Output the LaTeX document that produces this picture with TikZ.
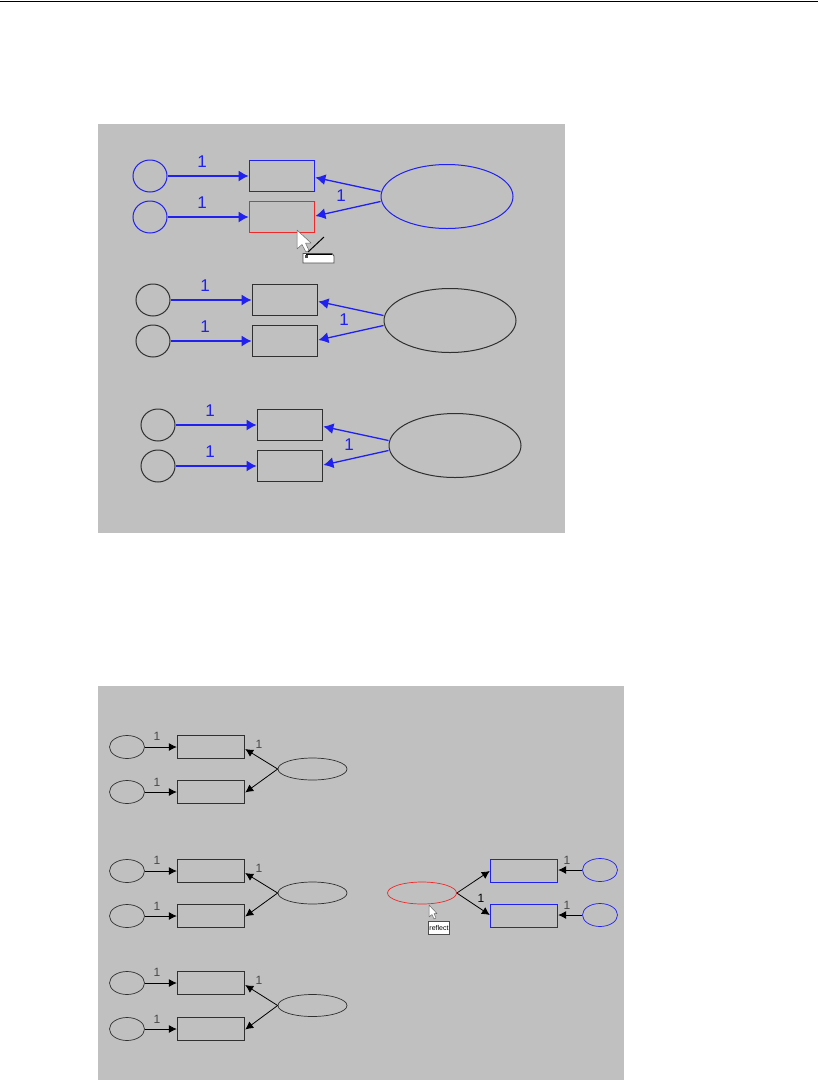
\documentclass[tikz,border=0pt]{standalone}
\usepackage{fontspec}
\setmainfont{Liberation Sans}
\usetikzlibrary{shapes.geometric,arrows.meta,calc}
\definecolor{panelgray}{HTML}{C0C0C0}
\definecolor{bl}{HTML}{2020F0}
\definecolor{rd}{HTML}{F02828}
\definecolor{dk}{HTML}{303030}
\definecolor{mid}{HTML}{484848}
\tikzset{
  panel/.style={fill=panelgray,draw=none},
  bigrect/.style={rectangle,draw=#1,line width=1.3pt,minimum width=65.5pt,minimum height=31.5pt,inner sep=0pt},
  bigcirc/.style={ellipse,draw=#1,line width=1pt,minimum width=34pt,minimum height=32pt,inner sep=0pt},
  bigell/.style={ellipse,draw=#1,line width=1pt,minimum width=132pt,minimum height=64pt,inner sep=0pt},
  bigarrow/.style={-{Latex[length=10pt,width=11pt]},draw=bl,line width=1.3pt},
  biglabel/.style={text=bl,font=\fontsize{17}{17}\selectfont,inner sep=0pt},
  smrect/.style={rectangle,draw=#1,line width=0.9pt,minimum width=67.5pt,minimum height=23pt,inner sep=0pt},
  smcirc/.style={ellipse,draw=#1,line width=0.7pt,minimum width=35pt,minimum height=23pt,inner sep=0pt},
  smell/.style={ellipse,draw=#1,line width=0.7pt,minimum width=69pt,minimum height=22pt,inner sep=0pt},
  smarrow/.style={-{Latex[length=8pt,width=8pt]},draw=black,line width=0.8pt},
  smlabel/.style={text=mid,font=\fontsize{12}{12}\selectfont,inner sep=0pt},
  pointer/.style={fill=white,draw=black!60,line width=0.5pt,line join=round},
}
% #1 prefix, #2 dx, #3 dy, #4 top colour, #5 circle/ellipse colour, #6 lower rect colour
\newcommand{\biggroup}[6]{%
  \node[bigcirc=#5] (#1c1) at (150+#2,176+#3) {};
  \node[bigcirc=#5] (#1c2) at (150+#2,217+#3) {};
  \node[bigrect=#4] (#1r1) at (282+#2,176+#3) {};
  \node[bigrect=#6] (#1r2) at (282+#2,217+#3) {};
  \node[bigell=#5] (#1e) at (447+#2,196.5+#3) {};
  \coordinate (#1s1) at ($(#1e.west)+(0,-5)$);
  \coordinate (#1s2) at ($(#1e.west)+(0,5)$);
  \draw[bigarrow] (#1c1) -- (#1r1);
  \draw[bigarrow] (#1c2) -- (#1r2);
  \draw[bigarrow] (#1s1) -- ($(#1r1.east)+(0,1.5)$);
  \draw[bigarrow] (#1s2) -- ($(#1r2.east)+(0,-1)$);
  \node[biglabel] (#1l1) at (202+#2,162+#3) {1};
  \node[biglabel] (#1l2) at (202+#2,203+#3) {1};
  \node[biglabel] (#1l3) at (341+#2,196+#3) {1};
}
% #1 prefix, #2 dy (first rect top at 735+dy), #3 gap between rows
\newcommand{\smgroup}[3]{%
  \node[smcirc=dk] (#1c1) at (127,747+#2) {};
  \node[smcirc=dk] (#1c2) at (127,747+#2+#3) {};
  \node[smrect=dk] (#1r1) at (211,746.5+#2) {};
  \node[smrect=dk] (#1r2) at (211,746.5+#2+#3) {};
  \node[smell=dk] (#1e) at (312.5,769+#2+#3/2-22.5) {};
  \draw[smarrow] (#1c1) -- (#1r1.west |- #1c1);
  \draw[smarrow] (#1c2) -- (#1r2.west |- #1c2);
  \draw[smarrow] (#1e.west) -- ($(#1r1.east)+(0,2.5)$);
  \draw[smarrow] (#1e.west) -- ($(#1r2.east)+(0,1)$);
  \node[smlabel] (#1l1) at (157,736+#2) {1};
  \node[smlabel] (#1l2) at (157,782+#2+#3-45) {1};
  \node[smlabel] (#1l3) at (259,744+#2) {1};
}
\begin{document}
\begin{tikzpicture}[x=1pt,y=-1pt]
\useasboundingbox (0,0) rectangle (818,1080);
\fill[white] (0,0) rectangle (818,1080);
\draw[black,line width=0.8pt] (0,1) -- (818,1) coordinate (rulend);
\fill[panel] (98,124) rectangle (565,533);
\fill[panel] (98,686) rectangle (624,1080);

\biggroup{a}{0}{0}{bl}{bl}{rd}
\biggroup{b}{3}{124}{dk}{dk}{dk}
\biggroup{g}{8}{249}{dk}{dk}{dk}

% brush cursor
\draw[black,line width=1pt] (308,252) -- (324,237);
\filldraw[fill=white,draw=black!70,line width=0.8pt] (303,263) -- (303,253.5) -- (332,253.5) -- (334,256) -- (334,263) -- cycle;
\draw[black,line width=1pt] (306,254) -- (332,254);
\fill[black!70] (305,254.5) rectangle (308,258);
\draw[pointer] (297,230) -- (297,249) -- (302,244.5) -- (306,252) -- (309,250.5) -- (305.5,243) -- (311,243) -- cycle;

\smgroup{p}{0}{45}
\smgroup{q}{124}{45}
\smgroup{s}{236}{46}

% reflected group
\node[smell=rd] (re) at (422,893) {};
\node[smrect=bl] (rr1) at (524,870.5) {};
\node[smrect=bl] (rr2) at (524,915.5) {};
\node[smcirc=bl] (rc1) at (600,870) {};
\node[smcirc=bl] (rc2) at (600,915) {};
\draw[smarrow] (rc1) -- (rr1.east |- rc1);
\draw[smarrow] (rc2) -- (rr2.east |- rc2);
\draw[smarrow] (re.east) -- ($(rr1.west)+(0,0.5)$);
\draw[smarrow] (re.east) -- ($(rr2.west)+(0,-0.5)$);
\node[smlabel] (rl1) at (567,860) {1};
\node[smlabel] (rl2) at (567,905) {1};
\node[smlabel,text=black] (rl3) at (481,898) {1};

% reflect pointer
\draw[pointer] (429,905) -- (429,917) -- (432,914.5) -- (434,919) -- (436,918) -- (434,913.5) -- (437,913.5) -- cycle;
\node[fill=white,draw=black!70,line width=0.5pt,inner sep=1pt,minimum width=21pt,minimum height=13pt,font=\fontsize{7}{7}\selectfont] (tip) at (439,928) {reflect};
\end{tikzpicture}
\end{document}
